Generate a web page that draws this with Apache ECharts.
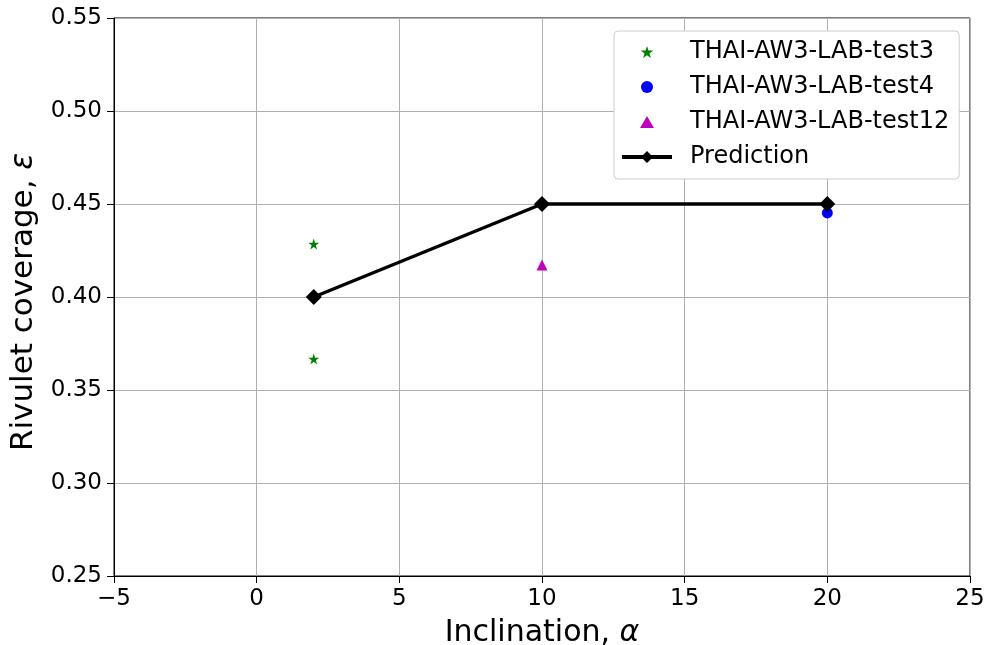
<!DOCTYPE html>
<html>
<head>
<meta charset="utf-8">
<script src="https://cdn.jsdelivr.net/npm/echarts@6/dist/echarts.min.js"></script>
<style>
  html, body { margin: 0; padding: 0; background: #fff; overflow: hidden; }
  #chart { width: 989px; height: 645px; }
</style>
</head>
<body>
<div id="chart"></div>
<script>
// Measured rivulet coverage at each inclination (degrees)
const test3 = [[2, 0.4285], [2, 0.3667]];
const test4 = [[20, 0.4452]];
const test12 = [[10, 0.4172]];
// Model prediction
const predictionX = [2, 10, 20];
const predictionY = [0.40, 0.45, 0.45];

const xTicks = { min: -5, max: 25, interval: 5 };
const yTicks = { min: 0.25, max: 0.55, interval: 0.05 };

const FONT = 'DejaVu Sans';
const STAR = 'path://M50,0 L61.2,34.5 L97.6,34.5 L68.2,55.9 L79.4,90.5 L50,69.1 L20.6,90.5 L31.8,55.9 L2.4,34.5 L38.8,34.5 Z';
const TRI = 'path://M50,0 L100,86.6 L0,86.6 Z';
// legend key for the prediction: thick line with a diamond in the middle
const LINE_DIAMOND = 'path://M0,8 L100,8 L100,16 L0,16 Z M50,0 L62,12 L50,24 L38,12 Z';

const chart = echarts.init(document.getElementById('chart'), null, { renderer: 'canvas' });

const gridLine = { show: true, lineStyle: { color: '#b0b0b0', width: 1 } };
const axisLine = { show: true, onZero: false, lineStyle: { color: '#000', width: 1 } };
const axisTick = { show: true, inside: false, length: 7, lineStyle: { color: '#000', width: 1 } };

chart.setOption({
  animation: false,
  backgroundColor: '#fff',
  grid: {
    left: 114, right: 19, top: 18, bottom: 69,
    containLabel: false, outerBoundsMode: 'none',
    show: true, borderColor: '#000', borderWidth: 1
  },
  xAxis: {
    type: 'value',
    min: xTicks.min, max: xTicks.max, interval: xTicks.interval,
    name: 'Inclination, {i|α}',
    nameLocation: 'middle', nameGap: 42,
    nameTextStyle: { fontFamily: FONT, fontSize: 30, color: '#000',
      rich: { i: { fontFamily: FONT, fontStyle: 'italic', fontSize: 30, color: '#000' } } },
    axisLine, axisTick, splitLine: gridLine,
    axisLabel: { fontFamily: FONT, fontSize: 23, color: '#000', margin: 12,
      formatter: v => (v < 0 ? '\u2212' + Math.abs(v) : String(v)) }
  },
  yAxis: {
    type: 'value',
    min: yTicks.min, max: yTicks.max, interval: yTicks.interval,
    name: 'Rivulet coverage, {i|ε}',
    nameLocation: 'middle', nameGap: 72, nameRotate: 90,
    nameTextStyle: { fontFamily: FONT, fontSize: 31, color: '#000', padding: [0, 10, 0, 0],
      rich: { i: { fontFamily: FONT, fontStyle: 'italic', fontSize: 31, color: '#000' } } },
    axisLine, axisTick, splitLine: gridLine,
    axisLabel: { fontFamily: FONT, fontSize: 23, color: '#000', margin: 12,
      formatter: v => v.toFixed(2) }
  },
  legend: {
    orient: 'vertical',
    left: 614, top: 31,
    padding: [9, 10, 10, 8],
    itemWidth: 50, itemHeight: 12, itemGap: 11,
    backgroundColor: '#fff',
    borderColor: '#cccccc', borderWidth: 1, borderRadius: 4,
    textStyle: { fontFamily: FONT, fontSize: 24, lineHeight: 24, color: '#000', padding: [0, 0, 0, 13] },
    data: [
      { name: 'THAI-AW3-LAB-test3', icon: STAR, itemStyle: { opacity: 1 } },
      { name: 'THAI-AW3-LAB-test4', icon: 'circle', itemStyle: { opacity: 1 } },
      { name: 'THAI-AW3-LAB-test12', icon: TRI, itemStyle: { opacity: 1 } },
      { name: 'Prediction', icon: LINE_DIAMOND, itemStyle: { color: '#000', borderWidth: 0, opacity: 1 } }
    ]
  },
  series: [
    {
      name: 'Prediction', type: 'line',
      data: predictionX.map((x, i) => [x, predictionY[i]]),
      symbol: 'diamond', symbolSize: 16,
      lineStyle: { color: '#000', width: 3.5 },
      itemStyle: { color: '#000' }, z: 3
    },
    {
      name: 'THAI-AW3-LAB-test3', type: 'scatter', data: test3,
      symbol: STAR, symbolSize: 11, itemStyle: { color: '#008000', opacity: 1 }, z: 4
    },
    {
      name: 'THAI-AW3-LAB-test4', type: 'scatter', data: test4,
      symbol: 'circle', symbolSize: 11, itemStyle: { color: '#0000ff', opacity: 1 }, z: 2
    },
    {
      name: 'THAI-AW3-LAB-test12', type: 'scatter', data: test12,
      symbol: TRI, symbolSize: 11, itemStyle: { color: '#bf00bf', opacity: 1 }, z: 4
    }
  ]
});
</script>
</body>
</html>
